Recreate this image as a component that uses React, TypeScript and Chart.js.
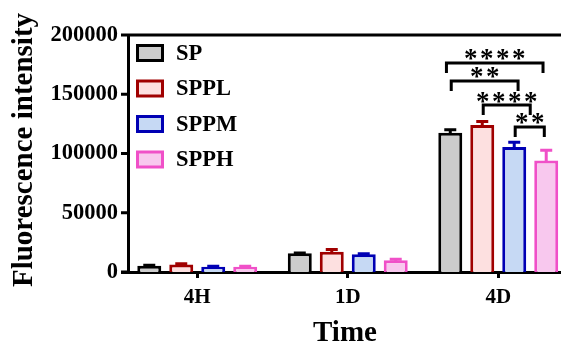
import React, { useEffect, useRef } from "react";
import { Chart, registerables } from "chart.js";

Chart.register(...registerables);

const categories = ["4H", "1D", "4D"];
const seriesNames = ["SP", "SPPL", "SPPM", "SPPH"];
const spValues = [5300, 15800, 117500];
const spErrors = [300, 300, 2500];
const spplValues = [6300, 17000, 124000];
const spplErrors = [600, 2000, 3000];
const sppmValues = [4500, 15000, 105500];
const sppmErrors = [300, 300, 4000];
const spphValues = [4500, 9900, 94000];
const spphErrors = [300, 800, 8700];
const yTicks = [0, 50000, 100000, 150000, 200000];

// significance brackets in the 4D group (fractional bar index within group)
const bracketGroup = 2;
const bracketFrom = [-0.12, 0.03, 1.03, 2.03];
const bracketTo = [2.9, 2.12, 2.5, 2.94];
const bracketLevel = [176400, 161200, 140900, 122400];
const bracketLabel = ["****", "**", "****", "**"];

const borderColors = ["#000000", "#a00000", "#0000b4", "#f050c8"];
const fillColors = ["#cccccc", "#fde0e0", "#c6d9f4", "#f8c8ee"];

const FONT = "'Liberation Serif', 'Times New Roman', serif";

export default function App() {
  const ref = useRef<HTMLCanvasElement | null>(null);

  useEffect(() => {
    if (!ref.current) return;
    const values = [spValues, spplValues, sppmValues, spphValues];
    const errors = [spErrors, spplErrors, sppmErrors, spphErrors];

    const custom = {
      id: "custom",
      afterDatasetsDraw(chart: any) {
        const ctx = chart.ctx;
        const area = chart.chartArea;
        const y = chart.scales.y;
        ctx.save();
        // error bars
        ctx.lineWidth = 3;
        chart.data.datasets.forEach((ds: any, i: number) => {
          const meta = chart.getDatasetMeta(i);
          meta.data.forEach((bar: any, j: number) => {
            const top = y.getPixelForValue(values[i][j]);
            const et = y.getPixelForValue(values[i][j] + errors[i][j]);
            ctx.strokeStyle = borderColors[i];
            ctx.beginPath();
            ctx.moveTo(bar.x, top + 1);
            ctx.lineTo(bar.x, et);
            ctx.moveTo(bar.x - 6, et);
            ctx.lineTo(bar.x + 6, et);
            ctx.stroke();
          });
        });
        // y axis
        const yAxisX = area.left + 6.5;
        ctx.strokeStyle = "#000";
        ctx.lineWidth = 3;
        ctx.beginPath();
        ctx.moveTo(yAxisX, area.top - 1.5);
        ctx.lineTo(yAxisX, area.bottom + 1.5);
        yTicks.forEach((t) => {
          const py = y.getPixelForValue(t);
          ctx.moveTo(area.left - 1, py);
          ctx.lineTo(yAxisX, py);
        });
        // top frame
        ctx.moveTo(yAxisX, area.top);
        ctx.lineTo(chart.width, area.top);
        ctx.stroke();

        // brackets
        const centers = chart.data.datasets.map(
          (_: any, i: number) => chart.getDatasetMeta(i).data[bracketGroup].x
        );
        const posOf = (f: number) => {
          let k = Math.floor(f);
          if (k < 0) k = 0;
          if (k > centers.length - 2) k = centers.length - 2;
          return centers[k] + (f - k) * (centers[k + 1] - centers[k]);
        };
        ctx.font = `bold 27px ${FONT}`;
        const m = ctx.measureText("*");
        const asc = m.actualBoundingBoxAscent;
        const desc = m.actualBoundingBoxDescent;
        bracketLabel.forEach((lab, b) => {
          const x1 = posOf(bracketFrom[b]);
          const x2 = posOf(bracketTo[b]);
          const py = y.getPixelForValue(bracketLevel[b]);
          ctx.strokeStyle = "#000";
          ctx.lineWidth = 3;
          ctx.beginPath();
          ctx.moveTo(x1, py + 10);
          ctx.lineTo(x1, py);
          ctx.lineTo(x2, py);
          ctx.lineTo(x2, py + 10);
          ctx.stroke();
          const cx = (x1 + x2) / 2;
          const cy = py - 8;
          const n = lab.length;
          const sp = 16;
          ctx.fillStyle = "#000";
          ctx.textAlign = "center";
          ctx.textBaseline = "alphabetic";
          for (let k = 0; k < n; k++) {
            const ax = cx + (k - (n - 1) / 2) * sp;
            ctx.fillText("*", ax, cy + (asc - desc) / 2);
          }
        });

        // legend
        ctx.textAlign = "left";
        ctx.textBaseline = "middle";
        ctx.font = `bold 22.5px ${FONT}`;
        const legendY = [53, 88.5, 124, 159.5];
        seriesNames.forEach((name, i) => {
          const cy = legendY[i];
          ctx.fillStyle = fillColors[i];
          ctx.fillRect(137, cy - 7, 26, 15);
          ctx.strokeStyle = borderColors[i];
          ctx.lineWidth = 3;
          ctx.strokeRect(137.5, cy - 7.5, 25, 15);
          ctx.fillStyle = "#000";
          ctx.fillText(name, 176, cy + 1);
        });

        // titles
        ctx.font = `bold 29px ${FONT}`;
        ctx.textAlign = "center";
        ctx.textBaseline = "middle";
        ctx.save();
        ctx.translate(25, 150);
        ctx.rotate(-Math.PI / 2);
        ctx.fillText("Fluorescence intensity", 0, 0);
        ctx.restore();
        ctx.font = `bold 29px ${FONT}`;
        ctx.fillText("Time", 345, 334);
        ctx.restore();
      },
    };

    const chart = new Chart(ref.current, {
      type: "bar",
      data: {
        labels: categories,
        datasets: seriesNames.map((name, i) => ({
          label: name,
          data: values[i],
          backgroundColor: fillColors[i],
          borderColor: borderColors[i],
          borderWidth: 3,
          borderSkipped: "start",
          categoryPercentage: 0.85,
          barPercentage: 0.75,
        })),
      },
      options: {
        responsive: false,
        animation: false,
        devicePixelRatio: 1,
        layout: { padding: { left: 0, top: 35, right: 26.5, bottom: 0 } },
        plugins: { legend: { display: false }, tooltip: { enabled: false } },
        scales: {
          y: {
            min: 0,
            max: 200000,
            afterFit: (s: any) => {
              s.width = 122;
            },
            afterBuildTicks: (s: any) => {
              s.ticks = yTicks.map((v) => ({ value: v }));
            },
            grid: { display: false, drawTicks: false },
            border: { display: false },
            ticks: {
              padding: 4,
              color: "#000",
              font: { family: FONT, size: 22.5, weight: "bold" },
              callback: (v: any) => String(v),
            },
          },
          x: {
            afterFit: (s: any) => {
              s.height = 76;
            },
            grid: {
              display: true,
              drawOnChartArea: false,
              drawTicks: true,
              tickLength: 6,
              lineWidth: 3,
              color: "#000",
              offset: false,
            },
            border: { display: true, width: 3, color: "#000" },
            ticks: {
              padding: 7,
              color: "#000",
              font: { family: FONT, size: 21, weight: "bold" },
            },
          },
        },
      },
      plugins: [custom],
    });
    return () => chart.destroy();
  }, []);

  return (
    <div
      style={{
        position: "fixed",
        left: 0,
        top: 0,
        width: 561,
        height: 348,
        overflow: "hidden",
        background: "#fff",
      }}
    >
      <canvas ref={ref} width={600} height={348} style={{ display: "block" }} />
    </div>
  );
}
